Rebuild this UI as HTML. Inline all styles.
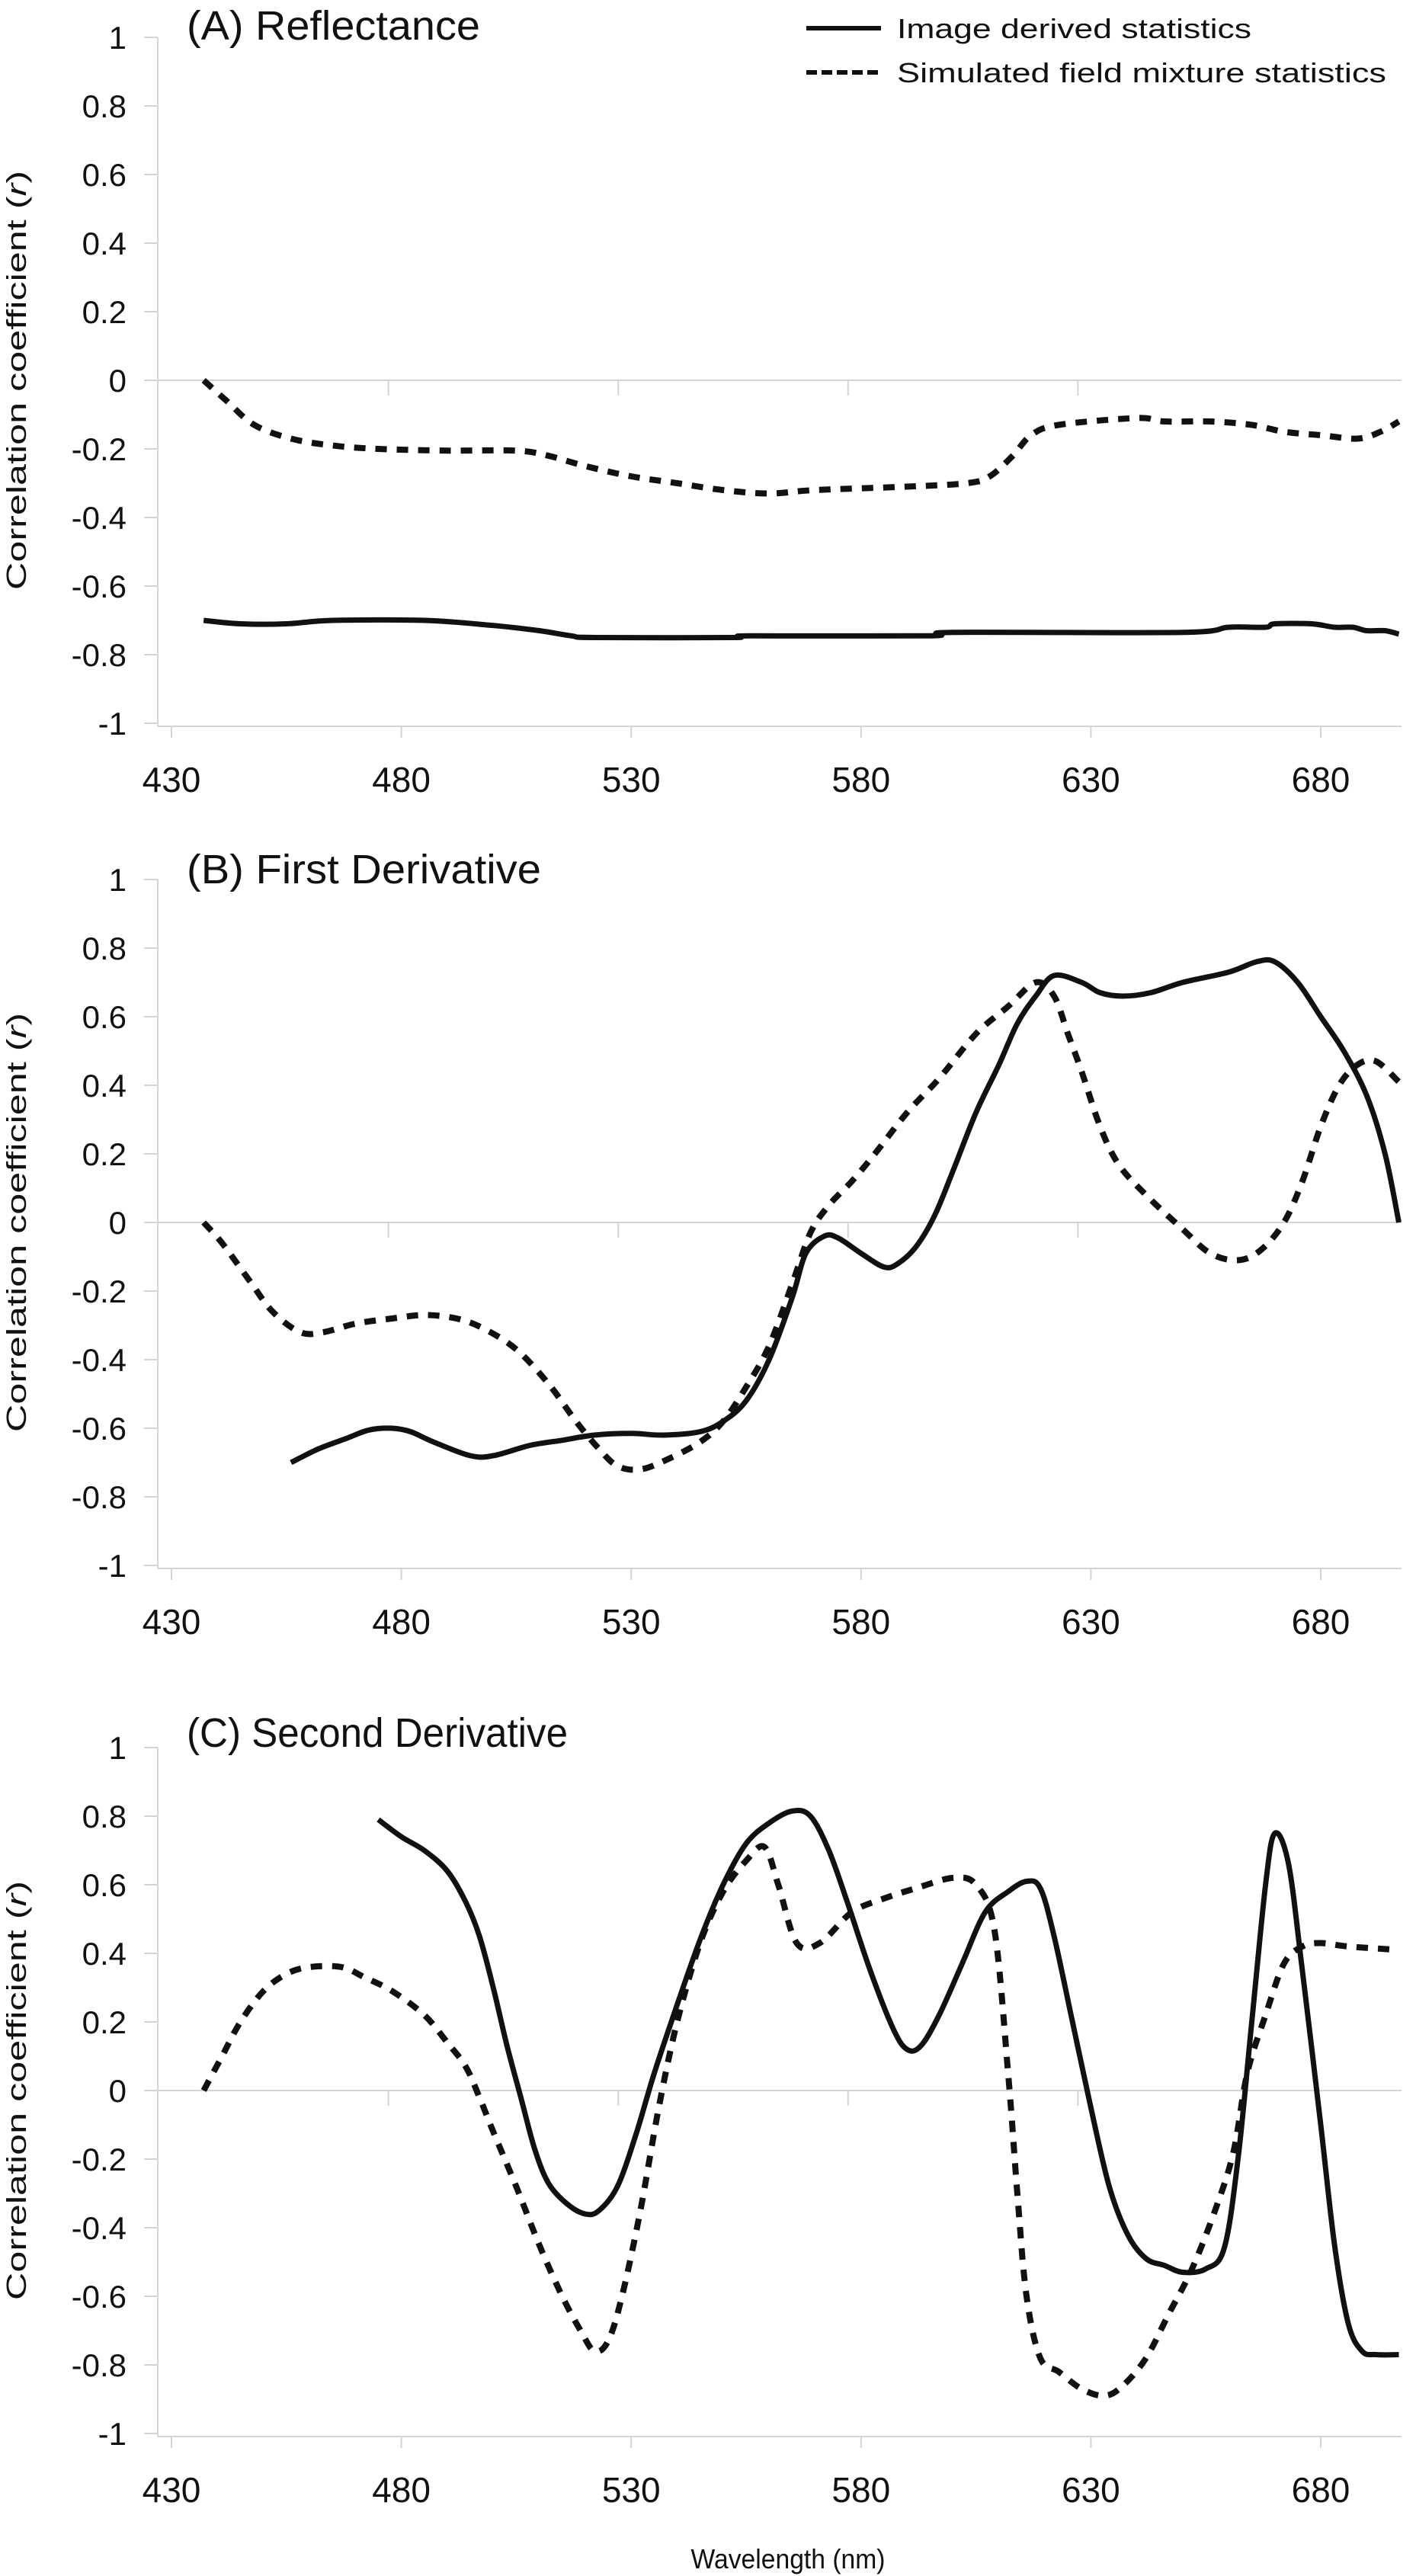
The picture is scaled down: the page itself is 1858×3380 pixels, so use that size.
<!DOCTYPE html>
<html><head><meta charset="utf-8"><style>
html,body{margin:0;padding:0;background:#fff}
svg{display:block}
text{font-family:"Liberation Sans",sans-serif;fill:#111}
</style></head>
<body>
<svg id="chart" width="1858" height="3380" viewBox="0 0 1858 3380" xmlns="http://www.w3.org/2000/svg">
<g id="legend">
<line x1="1058" y1="37" x2="1156" y2="37" stroke="#111" stroke-width="6"/>
<text x="1177" y="50" font-size="36" textLength="465" lengthAdjust="spacingAndGlyphs">Image derived statistics</text>
<line x1="1058" y1="95" x2="1156" y2="95" stroke="#111" stroke-width="6" stroke-dasharray="14 6"/>
<text x="1177" y="108" font-size="36" textLength="642" lengthAdjust="spacingAndGlyphs">Simulated field mixture statistics</text>
</g>
<text x="1034" y="3370" font-size="36" text-anchor="middle" textLength="255" lengthAdjust="spacingAndGlyphs">Wavelength (nm)</text>
</svg>
<script>
const xTicks=[430,480,530,580,630,680];
const yTicks=[1,0.8,0.6,0.4,0.2,0,-0.2,-0.4,-0.6,-0.8,-1];
const yTickLabels=["1","0.8","0.6","0.4","0.2","0","-0.2","-0.4","-0.6","-0.8","-1"];
const panelTitles=["(A) Reflectance","(B) First Derivative","(C) Second Derivative"];

const aImageWl=[437,445,455,465,485,500,510,517,522,552,556,595,600,650,660,668,670,678,683,687,690,694,697];
const aImageR=[-0.70,-0.71,-0.71,-0.70,-0.70,-0.715,-0.73,-0.745,-0.75,-0.75,-0.745,-0.745,-0.735,-0.735,-0.72,-0.72,-0.71,-0.71,-0.72,-0.72,-0.73,-0.73,-0.74];
const aSimWl=[437,442,448,456,465,475,490,505,512,520,530,540,550,560,570,590,603,608,613,617,623,640,646,656,665,672,680,688,693,697];
const aSimR=[0,-0.06,-0.13,-0.17,-0.19,-0.20,-0.205,-0.205,-0.22,-0.25,-0.28,-0.30,-0.32,-0.33,-0.32,-0.31,-0.30,-0.28,-0.22,-0.16,-0.13,-0.11,-0.12,-0.12,-0.13,-0.15,-0.16,-0.17,-0.15,-0.12];

const bImageWl=[456,462,468,473,478,482,487,495,500,508,515,522,530,537,545,550,555,560,565,568,572,575,580,585,588,592,596,600,605,610,614,618,622,628,632,637,643,650,660,666,670,675,680,685,690,694,697];
const bImageR=[-0.70,-0.66,-0.63,-0.605,-0.60,-0.61,-0.64,-0.68,-0.68,-0.65,-0.635,-0.62,-0.615,-0.62,-0.61,-0.58,-0.52,-0.40,-0.22,-0.09,-0.04,-0.045,-0.09,-0.13,-0.12,-0.07,0.02,0.15,0.32,0.46,0.58,0.66,0.72,0.70,0.67,0.66,0.67,0.70,0.73,0.76,0.76,0.70,0.60,0.50,0.37,0.20,0.0];
const bSimWl=[437,441,447,452,458,463,470,478,485,492,498,505,512,518,523,527,532,538,545,550,555,560,565,569,573,578,583,590,597,605,612,618,622,625,628,632,636,642,650,656,662,667,672,676,680,684,688,692,697];
const bSimR=[0,-0.06,-0.17,-0.26,-0.32,-0.32,-0.295,-0.28,-0.27,-0.28,-0.31,-0.37,-0.47,-0.58,-0.66,-0.71,-0.72,-0.69,-0.64,-0.58,-0.48,-0.36,-0.18,-0.03,0.05,0.12,0.20,0.32,0.42,0.55,0.63,0.70,0.66,0.55,0.44,0.28,0.17,0.08,-0.02,-0.09,-0.11,-0.08,0.0,0.12,0.28,0.40,0.46,0.47,0.41];

const cImageWl=[475,480,485,490,494,497,500,503,506,509,512,516,520,523,527,531,535,540,545,550,555,560,565,569,573,577,582,587,590,593,597,602,607,612,616,619,622,626,630,634,638,642,646,650,655,659,662,665,668,670,673,676,680,683,686,689,692,697];
const cImageR=[0.79,0.74,0.70,0.64,0.55,0.45,0.30,0.13,-0.02,-0.17,-0.27,-0.33,-0.36,-0.35,-0.28,-0.13,0.05,0.25,0.44,0.60,0.72,0.78,0.815,0.80,0.70,0.55,0.35,0.18,0.12,0.13,0.22,0.37,0.52,0.58,0.61,0.59,0.45,0.20,-0.05,-0.28,-0.42,-0.49,-0.51,-0.53,-0.52,-0.46,-0.20,0.20,0.60,0.75,0.66,0.35,-0.10,-0.45,-0.68,-0.76,-0.77,-0.77];
const cSimWl=[437,441,445,450,455,460,467,472,478,485,490,494,497,500,505,510,515,519,522,525,528,532,536,540,545,550,555,559,562,566,571,578,585,592,600,605,609,612,614,616,619,623,628,633,637,642,647,652,657,661,664,668,672,676,680,686,697];
const cSimR=[0,0.10,0.20,0.29,0.34,0.36,0.36,0.33,0.29,0.22,0.14,0.07,-0.02,-0.12,-0.28,-0.45,-0.60,-0.70,-0.76,-0.73,-0.60,-0.35,-0.05,0.20,0.43,0.58,0.67,0.71,0.60,0.43,0.43,0.52,0.56,0.59,0.62,0.60,0.47,0.05,-0.30,-0.60,-0.78,-0.82,-0.87,-0.89,-0.86,-0.78,-0.65,-0.52,-0.35,-0.18,0.05,0.22,0.37,0.42,0.43,0.42,0.41];

const NS="http://www.w3.org/2000/svg";
const svg=document.getElementById('chart');
const panels=[
 {top:49,img:[aImageWl,aImageR],sim:[aSimWl,aSimR],titleY:52,titleLen:385,name:'reflectance'},
 {top:1154,img:[bImageWl,bImageR],sim:[bSimWl,bSimR],titleY:1159,titleLen:465,name:'first-derivative'},
 {top:2293,img:[cImageWl,cImageR],sim:[cSimWl,cSimR],titleY:2292,titleLen:500,name:'second-derivative'}
];
const AX=207, RIGHT=1839, PH=900;
function xs(w){return 225+(w-430)*6.032;}
function mk(tag,attrs,parent){const e=document.createElementNS(NS,tag);for(const k in attrs)e.setAttribute(k,attrs[k]);(parent||svg).appendChild(e);return e;}
function path(wl,r,ys){
 const P=wl.map((w,i)=>[xs(w),ys(r[i])]);
 let d='M'+P[0][0].toFixed(1)+','+P[0][1].toFixed(1);
 for(let i=0;i<P.length-1;i++){
  const p0=P[Math.max(0,i-1)],p1=P[i],p2=P[i+1],p3=P[Math.min(P.length-1,i+2)];
  const c1=[p1[0]+(p2[0]-p0[0])/6,p1[1]+(p2[1]-p0[1])/6];
  const c2=[p2[0]-(p3[0]-p1[0])/6,p2[1]-(p3[1]-p1[1])/6];
  d+='C'+c1[0].toFixed(1)+','+c1[1].toFixed(1)+' '+c2[0].toFixed(1)+','+c2[1].toFixed(1)+' '+p2[0].toFixed(1)+','+p2[1].toFixed(1);
 }
 return d;
}

panels.forEach((p,pi)=>{
 const ys=v=>p.top+(1-v)*PH/2;
 const g=mk('g',{});
 
 
 const t=mk('text',{x:245,y:p.titleY,'font-size':54,textLength:p.titleLen,lengthAdjust:'spacingAndGlyphs'},g);
 t.textContent=panelTitles[pi];
 
 
 const ya=mk('line',{x1:AX,y1:ys(1),x2:AX,y2:ys(-1)+4,stroke:'#d4d4d4','stroke-width':2},g);
 
 
 yTicks.forEach((v,i)=>{
  const tk=mk('line',{x1:189,y1:ys(v),x2:AX,y2:ys(v),stroke:'#d4d4d4','stroke-width':2},g);
  
  
  const lb=mk('text',{x:166,y:ys(v)+15,'font-size':42,'text-anchor':'end'},g);
  lb.textContent=yTickLabels[i];
  
  
 });
 const z=mk('line',{x1:189,y1:ys(0),x2:RIGHT,y2:ys(0),stroke:'#d4d4d4','stroke-width':2},g);
 
 
 [480,530,580,630].forEach(w=>{
  const tk=mk('line',{x1:xs(w)-17,y1:ys(0),x2:xs(w)-17,y2:ys(0)+20,stroke:'#d4d4d4','stroke-width':2},g);
  
  
 });
 const by=ys(-1)+4;
 const xa=mk('line',{x1:AX,y1:by,x2:RIGHT,y2:by,stroke:'#d4d4d4','stroke-width':2},g);
 
 
 xTicks.forEach(w=>{
  const tk=mk('line',{x1:xs(w),y1:by,x2:xs(w),y2:by+15,stroke:'#d4d4d4','stroke-width':2},g);
  
  
  const lb=mk('text',{x:xs(w),y:by+86,'font-size':46,'text-anchor':'middle'},g);
  lb.textContent=String(w);
  
  
 });
 const cy=p.top+PH/2;
 const yt=mk('text',{x:0,y:0,'font-size':36,'text-anchor':'middle',transform:'translate(34,'+cy+') rotate(-90)',textLength:550,lengthAdjust:'spacingAndGlyphs'},g);
 yt.innerHTML='Correlation coefficient (<tspan font-style="italic">r</tspan>)';
 
 
 const sl=mk('path',{d:path(p.sim[0],p.sim[1],ys),fill:'none',stroke:'#111','stroke-width':8,'stroke-dasharray':'15 13'},g);
 
 
 const il=mk('path',{d:path(p.img[0],p.img[1],ys),fill:'none',stroke:'#111','stroke-width':7,'stroke-linejoin':'round'},g);
 
 
});
</script>
</body></html>
